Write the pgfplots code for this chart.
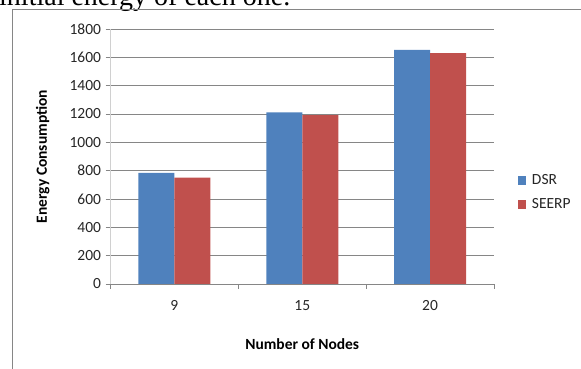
\documentclass[border=0pt]{standalone}
\usepackage{fontspec}
\setmainfont{Carlito}
\newfontfamily\serifont{Liberation Serif}
\usepackage{pgfplots}
\pgfplotsset{compat=1.18}
\definecolor{dsr}{HTML}{4F81BD}
\definecolor{seerp}{HTML}{C0504D}
\definecolor{gridc}{HTML}{868686}
\definecolor{yaxc}{HTML}{D0D0D0}
\definecolor{txt}{HTML}{262626}
\begin{document}
\begin{tikzpicture}
\useasboundingbox (0pt,0pt) rectangle (581pt,369pt);
\node[anchor=base west, inner sep=0pt, font=\serifont\fontsize{28}{30}\selectfont] at (-1pt,363pt) {initial energy of each one.};
\draw[gridc, line width=1.2pt] (12.5pt,-10pt) -- (12.5pt,359.5pt) -- (600pt,359.5pt);
\begin{axis}[
  at={(110.5pt,85pt)}, anchor=south west,
  scale only axis, width=383.5pt, height=255pt,
  ybar=0pt, bar width=36pt,
  xmin=-0.5, xmax=2.5, ymin=0, ymax=1800,
  axis x line=bottom, axis y line=left,
  axis line style={-},
  x axis line style={draw=gridc, line width=0.9pt},
  y axis line style={draw=yaxc, line width=1.5pt},
  xtick={0,1,2}, xticklabels={9,15,20},
  minor xtick={-0.5,0.5,1.5,2.5},
  major x tick style={draw=none},
  minor x tick style={draw=gridc, line width=0.9pt},
  minor tick length=5pt,
  ytick distance=200,
  y tick style={draw=gridc, line width=0.9pt},
  major tick length=5pt,
  tick align=outside,
  ymajorgrids, grid style={gridc, line width=0.9pt},
  /pgf/number format/assume math mode=true,
  /pgf/number format/1000 sep={},
  tick label style={font=\fontsize{15.5}{18}\selectfont, text=txt},
  yticklabel style={xshift=-1pt},
  xticklabel style={yshift=-8pt},
  xlabel={\textbf{Number of Nodes}},
  ylabel={\textbf{Energy Consumption}},
  label style={font=\fontsize{15.5}{18}\selectfont, text=black},
  xlabel style={at={(axis description cs:0.5,-0.235)}, anchor=center},
  ylabel style={at={(axis description cs:-0.177,0.5)}, anchor=center, rotate=0},
  legend style={at={(1.062,0.359)}, anchor=west, draw=none, fill=none,
    font=\fontsize{15.5}{18}\selectfont, row sep=8pt, inner sep=0pt,
    text=txt},
  legend image code/.code={\fill[#1] (0pt,-4.5pt) rectangle (8pt,4.5pt); \path (12pt,0pt);},
  legend cell align=left,
]
\addplot[fill=dsr, draw=none] coordinates {(0,785) (1,1212) (2,1652)};
\addplot[fill=seerp, draw=none] coordinates {(0,750) (1,1192) (2,1630)};
\legend{DSR,SEERP}
\end{axis}
\end{tikzpicture}
\end{document}
